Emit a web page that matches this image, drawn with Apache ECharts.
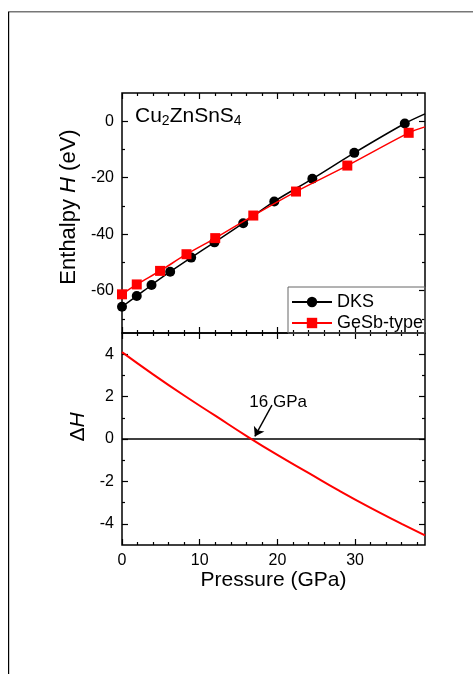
<!DOCTYPE html>
<html><head><meta charset="utf-8">
<script src="https://cdn.jsdelivr.net/npm/echarts@6/dist/echarts.min.js"></script>
<style>html,body{margin:0;padding:0;background:#fff;}#c{width:473px;height:674px;}</style>
</head><body><div id="c"></div>
<script>
// ---- data ----
const pressureDKS = [0, 1.9, 3.8, 6.2, 8.9, 11.9, 15.6, 19.6, 24.5, 29.9, 36.4];
const enthalpyDKS = [-65.7, -61.9, -58.0, -53.3, -48.3, -42.9, -36.1, -28.4, -20.4, -11.2, -0.8];
const fitEndDKS = [39, 2.6];
const pressureGeSb = [0, 1.9, 4.9, 8.3, 12.0, 16.9, 22.4, 29.0, 36.9];
const enthalpyGeSb = [-61.3, -57.8, -53.0, -47.1, -41.4, -33.4, -24.9, -15.7, -4.1];
const fitEndGeSb = [39, -2.0];
const pressureDH = [0, 4, 8, 12, 16, 20, 24, 28, 32, 36, 39];
const deltaH = [4.1, 3.05, 2.05, 1.1, 0.15, -0.75, -1.6, -2.45, -3.25, -4.0, -4.55];
const zeroLine = [[0, 0], [39, 0]];
const arrowFrom = [19.3, 1.6];
const arrowTo = [17.1, 0.12];
const transitionLabelAt = [20.1, 1.75];
const transitionLabel = '16 GPa';
const xMajorTicks = [0, 10, 20, 30];
const xMinorTicks = [2, 4, 6, 8, 12, 14, 16, 18, 22, 24, 26, 28, 32, 34, 36, 38];
const hMajorTicks = [-60, -40, -20, 0];
const hMinorTicks = [-70, -50, -30, -10];
const dMajorTicks = [-4, -2, 0, 2, 4];
const dMinorTicks = [-3, -1, 1, 3];
const seriesNames = ['DKS', 'GeSb-type'];

const FONT = 'Liberation Sans, Arial, Helvetica, sans-serif';
const X_RANGE = [0, 39];
const H_RANGE = [-75, 10];
const D_RANGE = [-5, 5];

function axis(kind, grid, pos, range, ticks, len, labels, extra) {
  const a = {
    type: 'value', gridIndex: grid, position: pos, min: range[0], max: range[1],
    axisLine: {show: false, onZero: false}, splitLine: {show: false},
    axisTick: {show: true, inside: true, length: len, customValues: ticks, lineStyle: {color: '#000', width: 1.2}},
    axisLabel: labels ? {show: true, customValues: ticks, color: '#000', fontSize: 16, fontFamily: FONT, margin: 8} : {show: false}
  };
  return Object.assign(a, extra || {});
}

const xAxes = [];
const yAxes = [];
[0, 1].forEach(g => {
  const isBottom = g === 1;
  xAxes.push(axis('x', g, 'bottom', X_RANGE, xMajorTicks, 6, isBottom, isBottom ? {
    name: 'Pressure (GPa)', nameLocation: 'middle', nameGap: 22,
    nameTextStyle: {fontSize: 21, color: '#000', fontFamily: FONT}
  } : {}));
  xAxes.push(axis('x', g, 'bottom', X_RANGE, xMinorTicks, 3, false));
  xAxes.push(axis('x', g, 'top', X_RANGE, xMajorTicks, 6, false));
  xAxes.push(axis('x', g, 'top', X_RANGE, xMinorTicks, 3, false));
  const yr = g === 0 ? H_RANGE : D_RANGE;
  const maj = g === 0 ? hMajorTicks : dMajorTicks;
  const min = g === 0 ? hMinorTicks : dMinorTicks;
  const nm = g === 0 ? {
    name: '{a|Enthalpy }{b|H}{a| (eV)}', nameLocation: 'middle', nameGap: 33, nameRotate: 90,
    nameTextStyle: {padding: [0, 0, 0, 12], rich: {a: {fontSize: 22, color: '#000', fontFamily: FONT}, b: {fontSize: 22, color: '#000', fontStyle: 'italic', fontFamily: FONT}}}
  } : {
    name: '{a|Δ}{b|H}', nameLocation: 'middle', nameGap: 32, nameRotate: 90,
    nameTextStyle: {padding: [0, 0, 0, 24], rich: {a: {fontSize: 21, color: '#000', fontFamily: FONT}, b: {fontSize: 21, color: '#000', fontStyle: 'italic', fontFamily: FONT}}}
  };
  yAxes.push(axis('y', g, 'left', yr, maj, 6, true, nm));
  yAxes.push(axis('y', g, 'left', yr, min, 3, false));
  yAxes.push(axis('y', g, 'right', yr, maj, 6, false));
  yAxes.push(axis('y', g, 'right', yr, min, 3, false));
});

const dksData = pressureDKS.map((p, i) => [p, enthalpyDKS[i]]);
dksData.push({value: fitEndDKS, symbol: 'none'});
const gesbData = pressureGeSb.map((p, i) => [p, enthalpyGeSb[i]]);
gesbData.push({value: fitEndGeSb, symbol: 'none'});
const dhData = pressureDH.map((p, i) => [p, deltaH[i]]);

const chart = echarts.init(document.getElementById('c'), null, {renderer: 'canvas'});
chart.setOption({
  animation: false,
  backgroundColor: '#fff',
  textStyle: {fontFamily: FONT},
  grid: [
    {left: 122, top: 93, width: 303, height: 240, show: true, borderColor: '#000', borderWidth: 1.5, backgroundColor: 'transparent'},
    {left: 122, top: 333, width: 303, height: 212, show: true, borderColor: '#000', borderWidth: 1.5, backgroundColor: 'transparent'}
  ],
  xAxis: xAxes,
  yAxis: yAxes,
  legend: {
    data: seriesNames, orient: 'vertical', left: 291, top: 293,
    itemWidth: 40, itemHeight: 13, itemGap: 3, padding: 0,
    textStyle: {fontSize: 18, color: '#000', fontFamily: FONT}
  },
  series: [
    {
      name: seriesNames[0], type: 'line', xAxisIndex: 0, yAxisIndex: 0, data: dksData,
      symbol: 'circle', symbolSize: 10, smooth: 0.3, color: '#000',
      lineStyle: {color: '#000', width: 1.5}, itemStyle: {color: '#000'}, z: 3
    },
    {
      name: seriesNames[1], type: 'line', xAxisIndex: 0, yAxisIndex: 0, data: gesbData,
      symbol: 'rect', symbolSize: 10, smooth: 0.3, color: '#ff0000',
      lineStyle: {color: '#ff0000', width: 1.5}, itemStyle: {color: '#ff0000'}, z: 4
    },
    {
      name: 'zero', type: 'line', xAxisIndex: 4, yAxisIndex: 4, data: zeroLine,
      showSymbol: false, symbol: 'none', lineStyle: {color: '#000', width: 1.5}, z: 2,
      markLine: {
        silent: true, symbol: ['none', 'arrow'], symbolSize: 9,
        lineStyle: {color: '#000', width: 1.4, type: 'solid'}, label: {show: false},
        data: [[{coord: arrowFrom}, {coord: arrowTo}]]
      },
      markPoint: {
        silent: true, symbol: 'circle', symbolSize: 1, itemStyle: {color: 'transparent'},
        label: {show: true, position: 'inside', formatter: transitionLabel, color: '#000', fontSize: 17, fontFamily: FONT},
        data: [{coord: transitionLabelAt}]
      }
    },
    {
      name: 'dH', type: 'line', xAxisIndex: 4, yAxisIndex: 4, data: dhData,
      showSymbol: false, symbol: 'none', smooth: true,
      lineStyle: {color: '#ff0000', width: 2}, z: 3
    }
  ],
  graphic: [
    {type: 'rect', shape: {x: 8, y: 11, width: 465, height: 1.6}, style: {fill: '#777'}, silent: true},
    {type: 'rect', shape: {x: 8, y: 12, width: 1.2, height: 662}, style: {fill: '#000'}, silent: true},
    {type: 'rect', shape: {x: 288, y: 287, width: 137, height: 46}, style: {fill: 'none', stroke: '#666', lineWidth: 1}, silent: true, z: 1},
    {
      type: 'text', left: 135, top: 106, silent: true,
      style: {
        text: '{m|Cu}{s|2}{m|ZnSnS}{s|4}', fill: '#000',
        rich: {
          m: {fontSize: 21, lineHeight: 24, fontFamily: FONT, fill: '#000'},
          s: {fontSize: 14, lineHeight: 14, verticalAlign: 'bottom', fontFamily: FONT, fill: '#000'}
        }
      }
    }
  ]
});
</script></body></html>
